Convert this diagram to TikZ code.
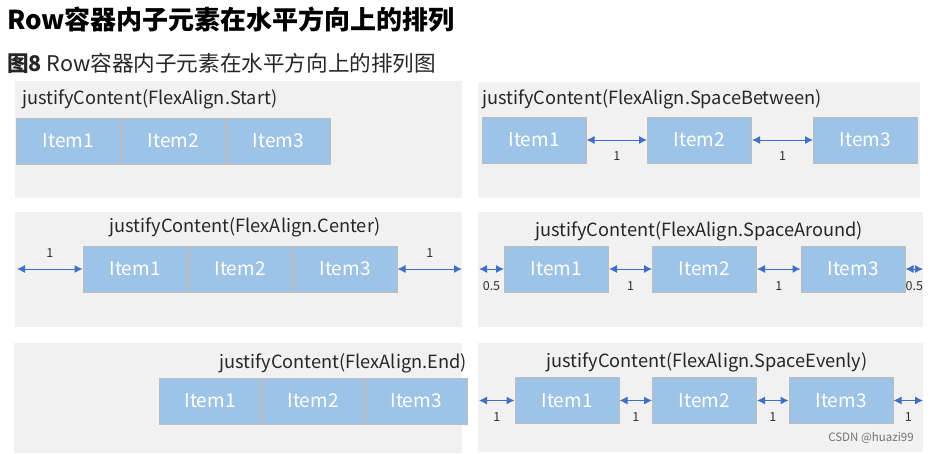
\documentclass[tikz,border=0pt]{standalone}
\usepackage{fontspec}
\setmainfont{Noto Sans CJK SC}
\usetikzlibrary{arrows.meta,positioning}
\definecolor{panelgray}{HTML}{F1F1F1}
\definecolor{itemblue}{HTML}{9DC3E6}
\definecolor{itemline}{HTML}{BDBDBD}
\definecolor{dimblue}{HTML}{3F6FC6}
\definecolor{labelgray}{HTML}{303030}

\begin{document}
\begin{tikzpicture}[x=1pt,y=-1pt,
  panel/.style={fill=panelgray},
  item/.style={draw=itemline,line width=1pt,fill=itemblue,text=white,inner sep=0pt,
    minimum width=104pt,minimum height=46pt,font=\fontsize{19}{19}\selectfont},
  jtitle/.style={inner sep=0pt,text=black!85,font=\fontsize{18.2}{18.2}\selectfont},
  dim/.style={draw=dimblue,line width=1pt,{Latex[length=8pt,width=8pt]}-{Latex[length=8pt,width=8pt]}},
  dimlabel/.style={inner sep=0pt,text=labelgray,font=\fontsize{12.5}{12.5}\selectfont}]
    \useasboundingbox (0,0) rectangle (933,453);
    % headings
    \node[anchor=west,inner sep=0pt,font=\bfseries\fontsize{26}{26}\selectfont] (head) at (7,20) {Row容器内子元素在水平方向上的排列};
    \node[anchor=west,inner sep=0pt,font=\fontsize{21.6}{21.6}\selectfont,text=black!85] (fig) at (7,63) {\textbf{图8} Row容器内子元素在水平方向上的排列图};
    % panels
    \fill[panel](15,81) rectangle (462,198);
    \fill[panel](478,82) rectangle (920,198);
    \fill[panel](15,212) rectangle (462,327);
    \fill[panel](478,212) rectangle (923,327);
    \fill[panel](14,343) rectangle (462,453);
    \fill[panel](478,343) rectangle (923,452);
    % Start
    \node[jtitle,anchor=west] (tstart) at (22,99) {justifyContent(FlexAlign.Start)};
    \node[item] (s1) at (68.5,141) {Item1};
    \node[item,right=0pt of s1] (s2) {Item2};
    \node[item,right=0pt of s2] (s3) {Item3};
    % SpaceBetween
    \node[jtitle,anchor=west] (tbetween) at (482,99) {justifyContent(FlexAlign.SpaceBetween)};
    \node[item] (b1) at (534,140) {Item1};
    \node[item] (b2) at (699.5,140) {Item2};
    \node[item] (b3) at (865.5,140) {Item3};
    \draw[dim](b1)--node[dimlabel,below=11pt]{1}(b2);
    \draw[dim](b2)--node[dimlabel,below=11pt]{1}(b3);
    % Center
    \node[jtitle] (tcenter) at (245,227) {justifyContent(FlexAlign.Center)};
    \node[item] (c1) at (135,269) {Item1};
    \node[item,right=0pt of c1] (c2) {Item2};
    \node[item,right=0pt of c2] (c3) {Item3};
    \coordinate (cl) at (17,269);
    \coordinate (cr) at (462,269);
    \draw[dim](cl)--node[dimlabel,above=11pt]{1}(c1);
    \draw[dim](c3)--node[dimlabel,above=11pt]{1}(cr);
    % SpaceAround
    \node[jtitle] (taround) at (699,231) {justifyContent(FlexAlign.SpaceAround)};
    \node[item] (a1) at (556.5,269) {Item1};
    \node[item] (a2) at (704.5,269) {Item2};
    \node[item] (a3) at (853,269) {Item3};
    \coordinate (al) at (479,269);
    \coordinate (ar) at (923,269);
    \draw[dim](al)--node[dimlabel,below=12pt]{0.5}(a1);
    \draw[dim](a1)--node[dimlabel,below=12pt]{1}(a2);
    \draw[dim](a2)--node[dimlabel,below=12pt]{1}(a3);
    \draw[dim](a3)--node[dimlabel,below=12pt]{0.5}(ar);
    % End
    \node[jtitle,anchor=east] (tend) at (467,363) {justifyContent(FlexAlign.End)};
    \node[item,minimum width=102pt] (e1) at (210,401) {Item1};
    \node[item,minimum width=102pt,right=0pt of e1] (e2) {Item2};
    \node[item,minimum width=102pt,right=0pt of e2] (e3) {Item3};
    % SpaceEvenly
    \node[jtitle] (tevenly) at (707,362) {justifyContent(FlexAlign.SpaceEvenly)};
    \node[item] (v1) at (567,400.5) {Item1};
    \node[item] (v2) at (704.5,400.5) {Item2};
    \node[item] (v3) at (841,400.5) {Item3};
    \coordinate (vl) at (479,400.5);
    \coordinate (vr) at (923,400.5);
    \draw[dim](vl)--node[dimlabel,below=12pt]{1}(v1);
    \draw[dim](v1)--node[dimlabel,below=12pt]{1}(v2);
    \draw[dim](v2)--node[dimlabel,below=12pt]{1}(v3);
    \draw[dim](v3)--node[dimlabel,below=12pt]{1}(vr);
    \node[inner sep=0pt,text=black!55,font=\fontsize{11.5}{11.5}\selectfont] (mark) at (871,438) {CSDN @huazi99};
\end{tikzpicture}
\end{document}
